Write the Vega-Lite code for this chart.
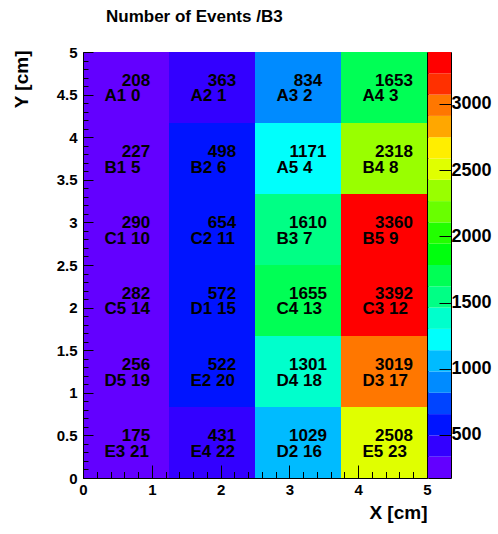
{
  "$schema": "https://vega.github.io/schema/vega-lite/v6.json",
  "autosize": {"type": "pad"},
  "padding": {"left": 11, "top": 7, "right": 5, "bottom": 5},
  "background": "white",
  "bounds": "flush",
  "spacing": 1,
  "title": {"text": "Number of Events /B3", "anchor": "start", "frame": "group", "dx": 23, "offset": 19, "font": "Liberation Sans", "fontSize": 17, "fontWeight": "bold", "color": "black"},
  "config": {
    "view": {"stroke": "black", "strokeWidth": 1},
    "axis": {"grid": false, "zindex": 1, "domainColor": "black", "tickColor": "black", "labelColor": "black", "titleColor": "black", "labelFont": "Liberation Sans", "labelFontWeight": "bold", "labelFontSize": 15, "titleFont": "Liberation Sans", "titleFontWeight": "bold", "titleFontSize": 19, "labelFlush": false}
  },
  "datasets": {
    "cells": [
      {"x0": 0, "x1": 1.25, "y0": 4.16667, "y1": 5, "count": 208, "label": "A1 0"},
      {"x0": 1.25, "x1": 2.5, "y0": 4.16667, "y1": 5, "count": 363, "label": "A2 1"},
      {"x0": 2.5, "x1": 3.75, "y0": 4.16667, "y1": 5, "count": 834, "label": "A3 2"},
      {"x0": 3.75, "x1": 5, "y0": 4.16667, "y1": 5, "count": 1653, "label": "A4 3"},
      {"x0": 0, "x1": 1.25, "y0": 3.33333, "y1": 4.16667, "count": 227, "label": "B1 5"},
      {"x0": 1.25, "x1": 2.5, "y0": 3.33333, "y1": 4.16667, "count": 498, "label": "B2 6"},
      {"x0": 2.5, "x1": 3.75, "y0": 3.33333, "y1": 4.16667, "count": 1171, "label": "A5 4"},
      {"x0": 3.75, "x1": 5, "y0": 3.33333, "y1": 4.16667, "count": 2318, "label": "B4 8"},
      {"x0": 0, "x1": 1.25, "y0": 2.5, "y1": 3.33333, "count": 290, "label": "C1 10"},
      {"x0": 1.25, "x1": 2.5, "y0": 2.5, "y1": 3.33333, "count": 654, "label": "C2 11"},
      {"x0": 2.5, "x1": 3.75, "y0": 2.5, "y1": 3.33333, "count": 1610, "label": "B3 7"},
      {"x0": 3.75, "x1": 5, "y0": 2.5, "y1": 3.33333, "count": 3360, "label": "B5 9"},
      {"x0": 0, "x1": 1.25, "y0": 1.66667, "y1": 2.5, "count": 282, "label": "C5 14"},
      {"x0": 1.25, "x1": 2.5, "y0": 1.66667, "y1": 2.5, "count": 572, "label": "D1 15"},
      {"x0": 2.5, "x1": 3.75, "y0": 1.66667, "y1": 2.5, "count": 1655, "label": "C4 13"},
      {"x0": 3.75, "x1": 5, "y0": 1.66667, "y1": 2.5, "count": 3392, "label": "C3 12"},
      {"x0": 0, "x1": 1.25, "y0": 0.83333, "y1": 1.66667, "count": 256, "label": "D5 19"},
      {"x0": 1.25, "x1": 2.5, "y0": 0.83333, "y1": 1.66667, "count": 522, "label": "E2 20"},
      {"x0": 2.5, "x1": 3.75, "y0": 0.83333, "y1": 1.66667, "count": 1301, "label": "D4 18"},
      {"x0": 3.75, "x1": 5, "y0": 0.83333, "y1": 1.66667, "count": 3019, "label": "D3 17"},
      {"x0": 0, "x1": 1.25, "y0": 0, "y1": 0.83333, "count": 175, "label": "E3 21"},
      {"x0": 1.25, "x1": 2.5, "y0": 0, "y1": 0.83333, "count": 431, "label": "E4 22"},
      {"x0": 2.5, "x1": 3.75, "y0": 0, "y1": 0.83333, "count": 1029, "label": "D2 16"},
      {"x0": 3.75, "x1": 5, "y0": 0, "y1": 0.83333, "count": 2508, "label": "E5 23"}
    ],
    "bands": [
      {"lo": 175, "hi": 335.85}, {"lo": 335.85, "hi": 496.7}, {"lo": 496.7, "hi": 657.55}, {"lo": 657.55, "hi": 818.4},
      {"lo": 818.4, "hi": 979.25}, {"lo": 979.25, "hi": 1140.1}, {"lo": 1140.1, "hi": 1300.95}, {"lo": 1300.95, "hi": 1461.8},
      {"lo": 1461.8, "hi": 1622.65}, {"lo": 1622.65, "hi": 1783.5}, {"lo": 1783.5, "hi": 1944.35}, {"lo": 1944.35, "hi": 2105.2},
      {"lo": 2105.2, "hi": 2266.05}, {"lo": 2266.05, "hi": 2426.9}, {"lo": 2426.9, "hi": 2587.75}, {"lo": 2587.75, "hi": 2748.6},
      {"lo": 2748.6, "hi": 2909.45}, {"lo": 2909.45, "hi": 3070.3}, {"lo": 3070.3, "hi": 3231.15}, {"lo": 3231.15, "hi": 3392}
    ]
  },
  "hconcat": [
    {
      "width": 344,
      "height": 426,
      "data": {"name": "cells"},
      "transform": [
        {"calculate": "(datum.x0 + datum.x1) / 2", "as": "xc"},
        {"calculate": "(datum.y0 + datum.y1) / 2", "as": "yc"}
      ],
      "resolve": {"axis": {"x": "independent", "y": "independent"}},
      "layer": [
        {
          "mark": {"type": "rect", "strokeWidth": 0},
          "encoding": {
            "x": {"field": "x0", "type": "quantitative", "scale": {"domain": [0, 5], "nice": false, "zero": false},
              "axis": {
                "orient": "bottom",
                "title": "X [cm]", "titleAnchor": "end", "titleAlign": "right", "titleX": 344, "titleY": 40, "titleBaseline": "alphabetic",
                "values": [0, 1, 2, 3, 4, 5], "format": "d",
                "tickSize": -13, "labelPadding": 17, "labelBaseline": "top", "zindex": 1
              }},
            "x2": {"field": "x1"},
            "y": {"field": "y0", "type": "quantitative", "scale": {"domain": [0, 5], "nice": false, "zero": false},
              "axis": {
                "orient": "left",
                "title": "Y [cm]", "titleAnchor": "end", "titleAlign": "right", "titleAngle": -90, "titleX": -62, "titleY": -2, "titleBaseline": "middle",
                "values": [0, 0.5, 1, 1.5, 2, 2.5, 3, 3.5, 4, 4.5, 5],
                "labelExpr": "toString(round(datum.value * 2) / 2)",
                "tickSize": -10, "labelPadding": 16, "zindex": 1
              }},
            "y2": {"field": "y1"},
            "color": {"field": "count", "type": "quantitative",
              "scale": {"type": "quantize", "domain": [175, 3392], "nice": false,
                "range": ["#6300FF", "#3300FF", "#0014FF", "#0044FF", "#008BFF", "#00BBFF", "#00FFFC", "#00FFCC", "#00FF85", "#00FF55", "#00FF0E", "#22FF00", "#69FF00", "#99FF00", "#E0FF00", "#FFEE00", "#FFA700", "#FF7700", "#FF3000", "#FF0000"]},
              "legend": null
            }
          }
        },
        {
          "mark": {"type": "text", "font": "Liberation Sans", "fontWeight": "bold", "fontSize": 17, "color": "black", "align": "center", "baseline": "middle", "dx": 10, "dy": -6.5},
          "encoding": {
            "x": {"field": "xc", "type": "quantitative",
              "axis": {"orient": "bottom", "title": null, "labels": false, "domain": false, "tickSize": -6.5, "zindex": 1,
                "values": [0.2, 0.4, 0.6, 0.8, 1.2, 1.4, 1.6, 1.8, 2.2, 2.4, 2.6, 2.8, 3.2, 3.4, 3.6, 3.8, 4.2, 4.4, 4.6, 4.8]}},
            "y": {"field": "yc", "type": "quantitative",
              "axis": {"orient": "left", "title": null, "labels": false, "domain": false, "tickSize": -5, "zindex": 1,
                "values": [0.1, 0.2, 0.3, 0.4, 0.6, 0.7, 0.8, 0.9, 1.1, 1.2, 1.3, 1.4, 1.6, 1.7, 1.8, 1.9, 2.1, 2.2, 2.3, 2.4, 2.6, 2.7, 2.8, 2.9, 3.1, 3.2, 3.3, 3.4, 3.6, 3.7, 3.8, 3.9, 4.1, 4.2, 4.3, 4.4, 4.6, 4.7, 4.8, 4.9]}},
            "text": {"field": "count", "type": "quantitative", "format": "d"}
          }
        },
        {
          "mark": {"type": "text", "font": "Liberation Sans", "fontWeight": "bold", "fontSize": 17, "color": "black", "align": "left", "baseline": "middle", "dx": -21.5, "dy": 9},
          "encoding": {
            "x": {"field": "xc", "type": "quantitative", "axis": null},
            "y": {"field": "yc", "type": "quantitative", "axis": null},
            "text": {"field": "label", "type": "nominal"}
          }
        }
      ]
    },
    {
      "width": 23,
      "height": 426,
      "data": {"name": "bands"},
      "transform": [{"calculate": "(datum.lo + datum.hi) / 2", "as": "mid"}],
      "mark": {"type": "rect", "strokeWidth": 0},
      "encoding": {
        "y": {"field": "lo", "type": "quantitative", "scale": {"domain": [175, 3392], "nice": false, "zero": false},
          "axis": {"orient": "right", "title": null, "values": [500, 1000, 1500, 2000, 2500, 3000], "format": "d", "tickSize": -12, "labelPadding": 12, "labelFontSize": 18, "domain": false, "zindex": 1}},
        "y2": {"field": "hi"},
        "color": {"field": "mid", "type": "quantitative",
          "scale": {"type": "quantize", "domain": [175, 3392], "nice": false,
            "range": ["#6300FF", "#3300FF", "#0014FF", "#0044FF", "#008BFF", "#00BBFF", "#00FFFC", "#00FFCC", "#00FF85", "#00FF55", "#00FF0E", "#22FF00", "#69FF00", "#99FF00", "#E0FF00", "#FFEE00", "#FFA700", "#FF7700", "#FF3000", "#FF0000"]},
          "legend": null}
      }
    }
  ]
}
